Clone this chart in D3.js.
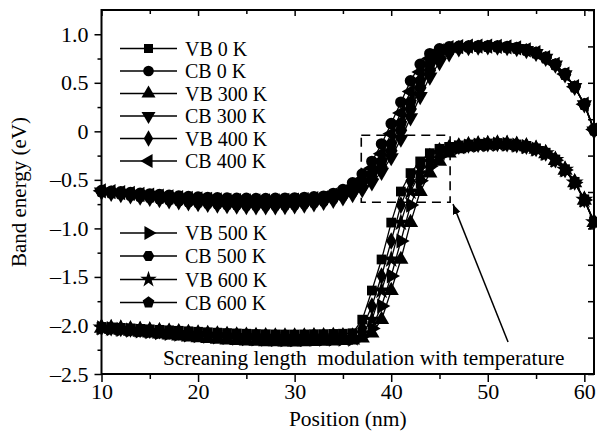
<!DOCTYPE html>
<html>
<head>
<meta charset="utf-8">
<script src="https://cdn.jsdelivr.net/npm/d3@7"></script>
<style>
  body { margin: 0; background: #fff; }
  svg { display: block; }
  text { font-family: "Liberation Serif", "Times New Roman", serif; fill: #000; }
</style>
</head>
<body>
<svg id="chart" width="597" height="439"></svg>
<script>
// Position grid (nm)
const positions = [10,11,12,13,14,15,16,17,18,19,20,21,22,23,24,25,26,27,28,29,30,31,32,33,34,35,
                   36,37,38,39,40,41,42,43,44,45,46,47,48,49,50,51,52,53,54,55,56,57,58,59,60,61];

// Conduction band energies (eV)
const CB_0K = [-0.610,-0.617,-0.624,-0.631,-0.638,-0.645,-0.652,-0.659,-0.666,-0.672,-0.677,-0.681,-0.685,-0.688,-0.690,-0.691,-0.692,-0.692,-0.691,-0.689,-0.686,-0.681,-0.675,-0.668,
  -0.64,-0.60,-0.53,-0.44,-0.31,-0.13,0.08,0.30,0.52,0.69,0.80,0.85,0.87,0.875,
  0.878,0.88,0.88,0.878,0.872,0.862,0.842,0.812,0.762,0.692,0.592,0.462,0.282,0.025];
const CB_300K = [-0.625,-0.638,-0.651,-0.664,-0.677,-0.690,-0.702,-0.714,-0.725,-0.735,-0.744,-0.752,-0.759,-0.765,-0.770,-0.774,-0.776,-0.777,-0.776,-0.773,-0.767,-0.758,-0.746,-0.730,
  -0.71,-0.685,-0.65,-0.60,-0.53,-0.42,-0.27,-0.08,0.14,0.36,0.56,0.71,0.80,0.85,
  0.865,0.87,0.872,0.87,0.864,0.854,0.834,0.804,0.754,0.684,0.584,0.454,0.274,0.005];
const CB_400K = [-0.613,-0.622,-0.631,-0.640,-0.649,-0.658,-0.667,-0.675,-0.683,-0.690,-0.696,-0.701,-0.706,-0.710,-0.713,-0.715,-0.716,-0.716,-0.715,-0.712,-0.708,-0.702,-0.694,-0.684,
  -0.655,-0.62,-0.57,-0.49,-0.38,-0.23,-0.025,0.19,0.41,0.61,0.75,0.83,0.862,0.873,
  0.877,0.877,0.877,0.875,0.87,0.86,0.84,0.81,0.76,0.69,0.59,0.46,0.28,0.02];
const CB_500K = [-0.620,-0.632,-0.644,-0.656,-0.668,-0.680,-0.692,-0.703,-0.713,-0.722,-0.730,-0.737,-0.744,-0.750,-0.755,-0.758,-0.760,-0.760,-0.759,-0.756,-0.750,-0.742,-0.731,-0.716,
  -0.69,-0.66,-0.625,-0.57,-0.49,-0.37,-0.20,0.01,0.23,0.45,0.63,0.76,0.83,0.862,
  0.87,0.873,0.874,0.872,0.866,0.856,0.836,0.806,0.756,0.686,0.586,0.456,0.276,0.01];
const CB_600K = [-0.616,-0.627,-0.638,-0.649,-0.660,-0.670,-0.680,-0.690,-0.699,-0.707,-0.714,-0.720,-0.726,-0.731,-0.735,-0.738,-0.740,-0.740,-0.739,-0.736,-0.731,-0.724,-0.714,-0.700,
  -0.67,-0.64,-0.60,-0.53,-0.44,-0.31,-0.13,0.08,0.30,0.52,0.69,0.80,0.85,0.87,
  0.872,0.875,0.875,0.873,0.868,0.858,0.838,0.808,0.758,0.688,0.588,0.458,0.278,0.015];

// Valence band energies (eV)
const VB_0K = [-2.015,-2.020,-2.025,-2.030,-2.035,-2.040,-2.045,-2.050,-2.055,-2.060,-2.065,-2.070,-2.074,-2.078,-2.082,-2.085,-2.088,-2.090,-2.092,-2.093,-2.093,-2.092,-2.090,-2.089,-2.087,-2.085,
  -2.08,-1.94,-1.64,-1.32,-0.94,-0.62,-0.43,-0.31,-0.225,-0.18,-0.16,-0.145,-0.135,
  -0.128,-0.125,-0.12,-0.125,-0.135,-0.15,-0.175,-0.22,-0.29,-0.39,-0.52,-0.70,-0.93];
const VB_300K = [-2.030,-2.040,-2.050,-2.060,-2.070,-2.080,-2.090,-2.100,-2.110,-2.119,-2.128,-2.136,-2.143,-2.150,-2.156,-2.161,-2.165,-2.168,-2.170,-2.171,-2.171,-2.169,-2.166,-2.163,-2.160,-2.155,
  -2.15,-2.13,-2.08,-1.94,-1.64,-1.32,-0.94,-0.62,-0.43,-0.31,-0.225,-0.18,-0.16,
  -0.148,-0.14,-0.134,-0.136,-0.146,-0.161,-0.186,-0.231,-0.301,-0.401,-0.531,-0.711,-0.941];
const VB_400K = [-2.018,-2.024,-2.030,-2.036,-2.042,-2.048,-2.054,-2.060,-2.066,-2.072,-2.078,-2.084,-2.089,-2.094,-2.098,-2.102,-2.105,-2.107,-2.109,-2.110,-2.110,-2.109,-2.107,-2.106,-2.105,-2.108,
  -2.11,-2.03,-1.80,-1.49,-1.13,-0.76,-0.51,-0.36,-0.26,-0.20,-0.17,-0.152,-0.14,
  -0.132,-0.128,-0.124,-0.127,-0.137,-0.152,-0.177,-0.222,-0.292,-0.392,-0.522,-0.702,-0.932];
const VB_500K = [-2.025,-2.033,-2.041,-2.049,-2.057,-2.065,-2.073,-2.081,-2.089,-2.097,-2.104,-2.111,-2.118,-2.124,-2.130,-2.135,-2.139,-2.142,-2.144,-2.145,-2.145,-2.144,-2.141,-2.140,-2.140,-2.140,
  -2.14,-2.11,-2.03,-1.80,-1.49,-1.13,-0.76,-0.51,-0.36,-0.26,-0.20,-0.17,-0.152,
  -0.142,-0.136,-0.131,-0.133,-0.143,-0.158,-0.183,-0.228,-0.298,-0.398,-0.528,-0.708,-0.938];
const VB_600K = [-2.020,-2.027,-2.034,-2.041,-2.048,-2.055,-2.062,-2.069,-2.076,-2.083,-2.090,-2.096,-2.102,-2.108,-2.113,-2.117,-2.121,-2.124,-2.126,-2.127,-2.127,-2.126,-2.124,-2.124,-2.125,-2.127,
  -2.13,-2.08,-1.94,-1.64,-1.32,-0.94,-0.62,-0.43,-0.31,-0.225,-0.18,-0.16,-0.145,
  -0.137,-0.132,-0.128,-0.13,-0.14,-0.155,-0.18,-0.225,-0.295,-0.395,-0.525,-0.705,-0.935];

const seriesNames = ["VB 0 K","CB 0 K","VB 300 K","CB 300 K","VB 400 K","CB 400 K",
                     "VB 500 K","CB 500 K","VB 600 K","CB 600 K"];
const seriesValues = [VB_0K, CB_0K, VB_300K, CB_300K, VB_400K, CB_400K,
                      VB_500K, CB_500K, VB_600K, CB_600K];

const xTickValues = [10,20,30,40,50,60];
const xMinorValues = [15,25,35,45,55];
const yTickValues = [1.0,0.5,0,-0.5,-1.0,-1.5,-2.0,-2.5];
const yTickLabels = ["1.0","0.5","0","\u20130.5","\u20131.0","\u20131.5","\u20132.0","\u20132.5"];
const yMinorValues = [0.75,0.25,-0.25,-0.75,-1.25,-1.75,-2.25];

const annotationText = "Screaning length  modulation with temperature";

// ---------- layout ----------
const svg = d3.select("#chart");
const plot = { left: 101.5, right: 594, top: 10, bottom: 374 };
const x = d3.scaleLinear().domain([10, 61]).range([plot.left, plot.right]);
const y = d3.scaleLinear().domain([-2.5, 1.25]).range([plot.bottom, plot.top]);
const TICK_FONT = 22, TITLE_FONT = 21.5, LEGEND_FONT = 20, NOTE_FONT = 21.3;

// ---------- marker shapes ----------
function polygonSymbol(n, rot) {
  return {
    draw(ctx, size) {
      const r = Math.sqrt(size / (0.5 * n * Math.sin(2 * Math.PI / n)));
      for (let i = 0; i < n; i++) {
        const a = rot + i * 2 * Math.PI / n;
        const px = r * Math.cos(a), py = r * Math.sin(a);
        if (i === 0) ctx.moveTo(px, py); else ctx.lineTo(px, py);
      }
      ctx.closePath();
    }
  };
}
const hexagon = polygonSymbol(6, 0);
const pentagon = polygonSymbol(5, -Math.PI / 2);

// one entry per series: symbol type, size, rotation
const markerDefs = [
  { type: d3.symbolSquare,   size: 95,  rot: 0 },
  { type: d3.symbolCircle,   size: 105, rot: 0 },
  { type: d3.symbolTriangle, size: 100, rot: 0 },
  { type: d3.symbolTriangle, size: 100, rot: 180 },
  { type: d3.symbolDiamond,  size: 90,  rot: 0 },
  { type: d3.symbolTriangle, size: 100, rot: -90 },
  { type: d3.symbolTriangle, size: 100, rot: 90 },
  { type: hexagon,           size: 105, rot: 0 },
  { type: d3.symbolStar,     size: 100, rot: 0 },
  { type: pentagon,          size: 105, rot: 0 }
];

// ---------- dashed highlight box and arrow (under the curves) ----------
svg.append("rect")
  .attr("x", x(36.9)).attr("y", y(-0.04))
  .attr("width", x(46.1) - x(36.9)).attr("height", y(-0.73) - y(-0.04))
  .attr("fill", "none").attr("stroke", "#000").attr("stroke-width", 1.6)
  .attr("stroke-dasharray", "9,6");

svg.append("defs").append("marker")
  .attr("id", "arrowhead").attr("viewBox", "0 0 10 10")
  .attr("refX", 10).attr("refY", 5)
  .attr("markerWidth", 10).attr("markerHeight", 10)
  .attr("markerUnits", "userSpaceOnUse")
  .attr("orient", "auto")
  .append("path").attr("d", "M0,1 L10,5 L0,9 Z").attr("fill", "#000");

svg.append("line")
  .attr("x1", x(52.1)).attr("y1", y(-2.17))
  .attr("x2", x(46.4)).attr("y2", y(-0.75))
  .attr("stroke", "#000").attr("stroke-width", 1.5)
  .attr("marker-end", "url(#arrowhead)");

// ---------- series ----------
const line = d3.line().x(d => x(d[0])).y(d => y(d[1]));
const seriesG = svg.append("g");
seriesValues.forEach((vals, si) => {
  const pts = positions.map((p, i) => [p, vals[i]]);
  const g = seriesG.append("g");
  g.append("path").datum(pts)
    .attr("d", line)
    .attr("fill", "none")
    .attr("stroke", "#000")
    .attr("stroke-width", 1.3);
  const md = markerDefs[si];
  const sym = d3.symbol().type(md.type).size(md.size);
  g.selectAll("path.m").data(pts).join("path")
    .attr("class", "m")
    .attr("d", sym)
    .attr("transform", d => `translate(${x(d[0])},${y(d[1])}) rotate(${md.rot})`)
    .attr("fill", "#000");
});

// ---------- axes ----------
const axisStyle = g => {
  g.select(".domain").remove();
  g.selectAll(".tick line").attr("stroke", "#000").attr("stroke-width", 1.5);
  g.selectAll(".tick text").attr("font-size", TICK_FONT)
    .attr("font-family", "Liberation Serif, Times New Roman, serif").attr("fill", "#000");
};

svg.append("g").attr("transform", `translate(0,${plot.bottom})`)
  .call(d3.axisBottom(x).tickValues(xTickValues).tickSize(8).tickPadding(1).tickFormat(d3.format("d")))
  .call(axisStyle);
svg.append("g").attr("transform", `translate(0,${plot.bottom})`)
  .call(d3.axisBottom(x).tickValues(xMinorValues).tickSize(5).tickFormat(""))
  .call(axisStyle);

svg.append("g").attr("transform", `translate(${plot.left},0)`)
  .call(d3.axisLeft(y).tickValues(yTickValues).tickSize(7).tickPadding(6)
    .tickFormat((d, i) => yTickLabels[i]))
  .call(axisStyle);
svg.append("g").attr("transform", `translate(${plot.left},0)`)
  .call(d3.axisLeft(y).tickValues(yMinorValues).tickSize(4).tickFormat(""))
  .call(axisStyle);

// top axis: inward ticks, no labels
svg.append("g").attr("transform", `translate(0,${plot.top})`)
  .call(d3.axisBottom(x).tickValues(xTickValues).tickSize(6).tickFormat(""))
  .call(axisStyle);
svg.append("g").attr("transform", `translate(0,${plot.top})`)
  .call(d3.axisBottom(x).tickValues(xMinorValues).tickSize(4).tickFormat(""))
  .call(axisStyle);

// right axis: inward ticks on its own ten-division scale
const yRight = d3.scaleLinear().domain([0, 10]).range([plot.bottom, plot.top]);
svg.append("g").attr("transform", `translate(${plot.right},0)`)
  .call(d3.axisLeft(yRight).ticks(10).tickSize(6).tickFormat(""))
  .call(axisStyle);

// frame
svg.append("rect")
  .attr("x", plot.left).attr("y", plot.top)
  .attr("width", plot.right - plot.left).attr("height", plot.bottom - plot.top)
  .attr("fill", "none").attr("stroke", "#000").attr("stroke-width", 2);

// axis titles
svg.append("text")
  .attr("x", (plot.left + plot.right) / 2).attr("y", 426)
  .attr("text-anchor", "middle").attr("font-size", TITLE_FONT)
  .text("Position (nm)");
svg.append("text")
  .attr("transform", `translate(26,${(plot.top + plot.bottom) / 2}) rotate(-90)`)
  .attr("text-anchor", "middle").attr("font-size", 21)
  .text("Band energy (eV)");

// ---------- legend ----------
const legendRows = [48.5, 71, 93.5, 116, 138.5, 161, 233, 256, 279.5, 302.5];
const legend = svg.append("g");
seriesNames.forEach((name, i) => {
  const ly = legendRows[i];
  const md = markerDefs[i];
  legend.append("line")
    .attr("x1", 120).attr("x2", 177).attr("y1", ly).attr("y2", ly)
    .attr("stroke", "#000").attr("stroke-width", 1.5);
  legend.append("path")
    .attr("d", d3.symbol().type(md.type).size(md.size * 0.85)())
    .attr("transform", `translate(148.5,${ly}) rotate(${md.rot})`)
    .attr("fill", "#000");
  legend.append("text")
    .attr("x", 185).attr("y", ly).attr("dy", "0.35em")
    .attr("font-size", LEGEND_FONT)
    .text(name);
});

// ---------- annotation text ----------
svg.append("text")
  .attr("x", 163).attr("y", 365)
  .attr("font-size", NOTE_FONT)
  .style("white-space", "pre")
  .text(annotationText);
</script>
</body>
</html>
